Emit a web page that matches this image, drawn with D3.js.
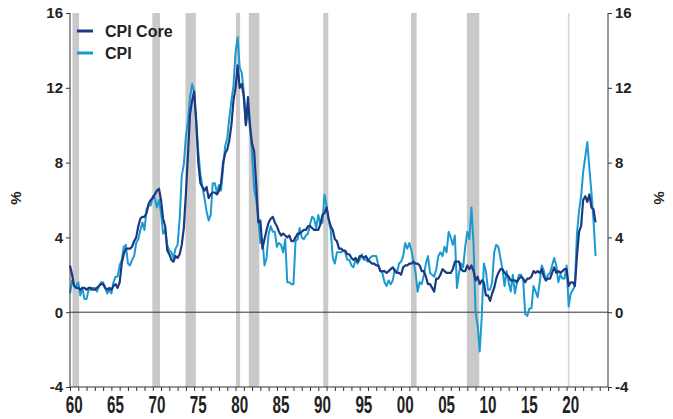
<!DOCTYPE html>
<html><head><meta charset="utf-8">
<script src="https://cdn.jsdelivr.net/npm/d3@7"></script>
<style>
html,body{margin:0;padding:0;background:#fff;}
text{font-family:"Liberation Sans",Arial,sans-serif;font-weight:bold;fill:#222;}
</style></head>
<body><svg id="c" width="673" height="419"></svg>
<script>
// Quarterly observations (Jan, Apr, Jul, Oct) starting 1960; last obs mid-2023
const startYear = 1960;
const cpi = [
1.0,1.7,1.4,1.4, 1.6,0.9,1.3,0.7, 0.7,1.2,1.2,1.3, 1.3,1.1,1.4,1.6,
1.6,1.3,1.0,1.2, 1.0,1.6,1.9,1.9, 2.5,2.8,3.5,3.6, 2.6,2.5,2.8,3.0,
3.7,3.9,4.4,4.8, 4.4,5.5,5.7,5.7, 6.2,6.1,5.6,6.0, 5.3,4.2,4.4,3.6,
3.3,3.2,2.9,3.4, 3.6,5.0,7.3,7.9, 9.4,10.2,11.5,12.2, 11.8,10.2,8.6,7.4,
6.7,6.1,5.4,4.9, 5.2,6.9,6.9,6.4, 6.8,6.5,7.7,8.9, 9.3,10.4,11.3,12.1,
13.9,14.7,13.1,12.8, 11.8,10.0,10.8,10.1, 8.4,6.6,6.0,5.1, 3.7,3.9,2.5,2.9,
4.2,4.6,4.3,4.3, 3.5,3.7,3.6,3.2, 3.9,1.6,1.6,1.5, 1.5,3.8,3.9,4.5,
4.0,3.9,4.1,4.2, 4.7,5.1,5.0,4.5, 5.2,4.7,4.8,6.3, 5.7,4.9,4.4,2.9,
2.6,3.2,3.2,3.2, 3.3,3.2,2.8,2.8, 2.5,2.4,2.8,2.6, 2.8,3.1,2.8,2.8,
2.7,2.9,3.0,3.0, 3.0,2.5,2.2,2.1, 1.6,1.4,1.7,1.5, 1.7,2.3,2.1,2.6,
2.7,3.0,3.7,3.4, 3.7,3.3,2.7,2.1, 1.1,1.6,1.5,2.0, 2.6,3.0,2.1,2.0,
1.9,2.3,3.0,3.2, 3.0,3.5,3.2,4.3, 4.0,3.6,4.1,1.3, 2.1,2.6,2.4,3.5,
4.3,3.9,5.6,3.7, 0.0,-0.7,-2.1,-0.2, 2.6,2.2,1.2,1.2, 1.6,3.2,3.6,3.5,
2.9,2.3,1.4,2.2, 1.6,1.1,2.0,1.0, 1.6,2.0,2.0,1.7, -0.1,-0.2,0.2,0.2,
1.4,1.1,0.8,1.6, 2.5,2.2,1.7,2.0, 2.1,2.5,2.9,2.5, 1.6,2.0,1.8,1.8,
2.5,0.3,1.0,1.2, 1.4,4.2,5.4,6.2, 7.5,8.3,9.1,7.7, 6.4,4.9,3.0
];
const core = [
2.5,2.0,1.4,1.3, 1.3,1.2,1.3,1.3, 1.2,1.3,1.3,1.2, 1.2,1.3,1.4,1.5,
1.5,1.3,1.2,1.3, 1.2,1.4,1.5,1.3, 1.6,2.6,3.1,3.4, 3.4,3.4,3.5,3.8,
4.0,4.6,5.0,5.1, 5.1,5.3,5.8,6.0, 6.1,6.3,6.5,6.6, 6.0,5.0,4.6,3.3,
3.1,2.8,2.7,3.0, 2.9,3.1,3.6,4.5, 6.3,8.4,10.6,11.3, 11.8,10.2,8.0,6.9,
6.7,6.5,6.7,6.1, 6.3,6.4,6.4,6.3, 6.5,6.9,8.0,8.5, 8.7,9.2,10.0,11.3,
12.0,13.2,12.0,12.2, 11.5,10.0,11.5,9.9, 9.0,8.6,6.8,4.8, 4.9,3.4,3.9,4.4,
4.8,5.0,5.1,4.8, 4.6,4.3,4.1,4.2, 4.1,4.0,4.1,3.8, 3.8,4.0,4.2,4.2,
4.3,4.4,4.4,4.6, 4.6,4.5,4.4,4.4, 4.4,4.7,5.2,5.3, 5.6,5.0,4.6,4.4,
3.9,3.8,3.4,3.4, 3.3,3.3,3.1,3.1, 2.9,2.8,2.9,2.7, 3.0,3.0,2.9,3.0,
2.8,2.7,2.6,2.6, 2.5,2.5,2.2,2.2, 2.2,2.1,2.2,2.3, 2.4,2.2,2.1,2.1,
2.0,2.4,2.5,2.5, 2.6,2.6,2.7,2.6, 2.6,2.5,2.2,2.2, 1.9,1.5,1.5,1.3,
1.1,1.8,1.8,2.0, 2.3,2.2,2.1,2.1, 2.1,2.3,2.7,2.7, 2.7,2.3,2.2,2.2,
2.5,2.3,2.5,2.2, 1.7,1.9,1.5,1.7, 1.6,0.9,0.9,0.6, 1.0,1.3,1.8,2.1,
2.3,2.3,2.1,2.0, 1.9,1.7,1.7,1.7, 1.6,1.8,1.9,1.8, 1.6,1.8,1.8,1.9,
2.2,2.1,2.2,2.1, 2.3,1.9,1.7,1.8, 1.8,2.1,2.4,2.1, 2.2,2.1,2.2,2.3,
2.3,1.4,1.6,1.6, 1.4,3.0,4.3,4.6, 6.0,6.2,5.9,6.3, 5.6,5.5,4.8
];
const recessions = [[1960.3,1961.1],[1969.95,1970.88],[1973.95,1975.2],[1980.05,1980.55],[1981.6,1982.88],[1990.6,1991.2],[2001.2,2001.88],[2007.95,2009.45]];
const covidBand = [2020.15,2020.35];
const yTicks = [-4,0,4,8,12,16];
const xLabelYears = [1960,1965,1970,1975,1980,1985,1990,1995,2000,2005,2010,2015,2020];
const seriesNames = ["CPI Core","CPI"];
const colors = {core:"#1c3a82", cpi:"#1b9ad2"};

const svg = d3.select("#c");
const x = d3.scaleLinear().domain([1960,2025]).range([70,608]);
const y = d3.scaleLinear().domain([-4,16]).range([387,13]);

// recession bands
svg.append("g").selectAll("rect").data(recessions).join("rect")
  .attr("x",d=>x(d[0])).attr("width",d=>x(d[1])-x(d[0]))
  .attr("y",y(16)).attr("height",y(-4)-y(16)).attr("fill","#c9c9c9");
svg.append("rect").attr("x",x(covidBand[0])).attr("width",x(covidBand[1])-x(covidBand[0]))
  .attr("y",y(16)).attr("height",y(-4)-y(16)).attr("fill","#d8d8d8");

// zero line
svg.append("line").attr("x1",x(1960)).attr("x2",x(2025)).attr("y1",y(0)).attr("y2",y(0))
  .attr("stroke","#333").attr("stroke-width",1);

const toPts = arr => arr.map((v,i)=>[startYear+i*0.25, v]);
const line = d3.line().x(d=>x(d[0])).y(d=>y(d[1]));
svg.append("path").attr("d",line(toPts(cpi))).attr("fill","none").attr("stroke",colors.cpi).attr("stroke-width",2).attr("stroke-linejoin","round");
svg.append("path").attr("d",line(toPts(core))).attr("fill","none").attr("stroke",colors.core).attr("stroke-width",2.2).attr("stroke-linejoin","round");

const fmt = d => String(d);
// left axis
const gl = svg.append("g").attr("transform",`translate(${x(1960)},0)`)
  .call(d3.axisLeft(y).tickValues(yTicks).tickSize(4).tickPadding(3).tickFormat(fmt));
gl.select(".domain").attr("stroke","#333").attr("d",`M0,${y(16)}V${y(-4)}`);
gl.selectAll(".tick line").attr("stroke","#333");
gl.selectAll("text").style("font-size","15px").attr("fill","#222");

// right axis
const gr = svg.append("g").attr("transform",`translate(${x(2025)},0)`)
  .call(d3.axisRight(y).tickValues(yTicks).tickSize(4).tickPadding(3).tickFormat(fmt));
gr.select(".domain").attr("stroke","#333").attr("d",`M0,${y(16)}V${y(-4)}`);
gr.selectAll(".tick line").attr("stroke","#333");
gr.selectAll("text").style("font-size","15px").attr("fill","#222");

// bottom axis
const gb = svg.append("g").attr("transform",`translate(0,${y(-4)})`)
  .call(d3.axisBottom(x).tickValues(d3.range(1960,2026)).tickSize(4).tickFormat(""));
gb.select(".domain").attr("stroke","#333").attr("d",`M${x(1960)},0H${x(2025)}`);
gb.selectAll(".tick line").attr("stroke","#333");
svg.append("g").selectAll("text").data(xLabelYears).join("text")
  .attr("transform",d=>`translate(${x(d+0.5)},413) scale(0.95,1.45)`)
  .attr("text-anchor","middle").style("font-size","16px")
  .text(d=>String(d%100).padStart(2,"0"));

// % labels
svg.append("text").attr("transform","translate(21,198) rotate(-90)").attr("text-anchor","middle").style("font-size","15px").text("%");
svg.append("text").attr("transform","translate(654,198) rotate(90)").attr("text-anchor","middle").style("font-size","15px").text("%");

// legend
const leg = svg.append("g");
[["CPI Core",colors.core,31],["CPI",colors.cpi,53]].forEach(([t,c,yy])=>{
  leg.append("line").attr("x1",77).attr("x2",93).attr("y1",yy).attr("y2",yy).attr("stroke",c).attr("stroke-width",3);
  leg.append("text").attr("x",105).attr("y",yy+6).style("font-size","16px").text(t);
});
</script></body></html>
